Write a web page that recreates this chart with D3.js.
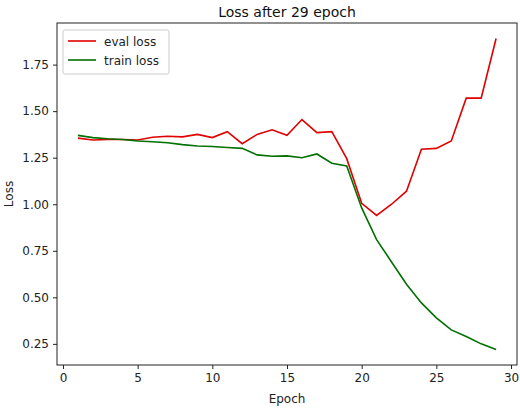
<!DOCTYPE html>
<html>
<head>
<meta charset="utf-8">
<script src="https://cdn.jsdelivr.net/npm/d3@7"></script>
<style>
  body { margin: 0; background: #fff; }
  text { font-family: "DejaVu Sans", sans-serif; }
</style>
</head>
<body>
<script>
const epochs = d3.range(1, 30);
const evalLoss = [1.355, 1.345, 1.348, 1.348, 1.345, 1.36, 1.365, 1.362, 1.375, 1.358,
  1.39, 1.325, 1.375, 1.40, 1.37, 1.455, 1.385, 1.39, 1.245, 1.005,
  0.94, 1.00, 1.07, 1.295, 1.30, 1.34, 1.57, 1.57, 1.89];
const trainLoss = [1.37, 1.358, 1.352, 1.348, 1.34, 1.336, 1.33, 1.32, 1.313, 1.31,
  1.305, 1.30, 1.265, 1.258, 1.26, 1.25, 1.27, 1.22, 1.205, 0.98,
  0.81, 0.69, 0.57, 0.47, 0.39, 0.325, 0.29, 0.25, 0.22];
const xTicks = [0, 5, 10, 15, 20, 25, 30];
const yTicks = [0.25, 0.5, 0.75, 1.0, 1.25, 1.5, 1.75];

const width = 520, height = 408;
const padLeft = 57, padRight = 517, padTop = 23, padBottom = 365;

const svg = d3.select('body').append('svg').attr('width', width).attr('height', height);

const x = d3.scaleLinear().domain([-0.4, 30.4]).range([padLeft, padRight]);
const y = d3.scaleLinear().domain([0.1365, 1.9735]).range([padBottom, padTop]);

const xAxis = svg.append('g').attr('transform', `translate(0,${padBottom})`)
  .call(d3.axisBottom(x).tickValues(xTicks).tickFormat(d3.format('d')).tickSize(4).tickPadding(4));
const yAxis = svg.append('g').attr('transform', `translate(${padLeft},0)`)
  .call(d3.axisLeft(y).tickValues(yTicks).tickFormat(d3.format('.2f')).tickSize(4).tickPadding(4));
[xAxis, yAxis].forEach(g => {
  g.select('.domain').remove();
  g.selectAll('text').attr('font-size', 12).attr('fill', '#222').style('font-family', '"DejaVu Sans", sans-serif');
  g.selectAll('line').attr('stroke', '#222');
});

svg.append('rect').attr('x', padLeft).attr('y', padTop)
  .attr('width', padRight - padLeft).attr('height', padBottom - padTop)
  .attr('fill', 'none').attr('stroke', '#222').attr('stroke-width', 1);

const line = d3.line().x((d, i) => x(epochs[i])).y(d => y(d));
svg.append('path').datum(evalLoss).attr('d', line)
  .attr('fill', 'none').attr('stroke', '#e00000').attr('stroke-width', 1.6);
svg.append('path').datum(trainLoss).attr('d', line)
  .attr('fill', 'none').attr('stroke', '#007000').attr('stroke-width', 1.6);

svg.append('text').attr('x', (padLeft + padRight) / 2).attr('y', 17).attr('text-anchor', 'middle')
  .attr('font-size', 14).attr('fill', '#111').text('Loss after 29 epoch');
svg.append('text').attr('x', (padLeft + padRight) / 2).attr('y', 403).attr('text-anchor', 'middle')
  .attr('font-size', 12).attr('fill', '#222').text('Epoch');
svg.append('text').attr('transform', `translate(13,${(padTop + padBottom) / 2}) rotate(-90)`)
  .attr('text-anchor', 'middle').attr('font-size', 12).attr('fill', '#222').text('Loss');

const legend = svg.append('g');
legend.append('rect').attr('x', 63).attr('y', 30).attr('width', 106).attr('height', 44)
  .attr('fill', '#fff').attr('stroke', '#ccc').attr('rx', 2);
[['eval loss', '#e00000'], ['train loss', '#007000']].forEach(([label, color], i) => {
  const yy = 41 + i * 19;
  legend.append('line').attr('x1', 68).attr('x2', 96).attr('y1', yy).attr('y2', yy)
    .attr('stroke', color).attr('stroke-width', 1.6);
  legend.append('text').attr('x', 104).attr('y', yy + 4.5).attr('font-size', 12)
    .attr('fill', '#222').text(label);
});
</script>
</body>
</html>
